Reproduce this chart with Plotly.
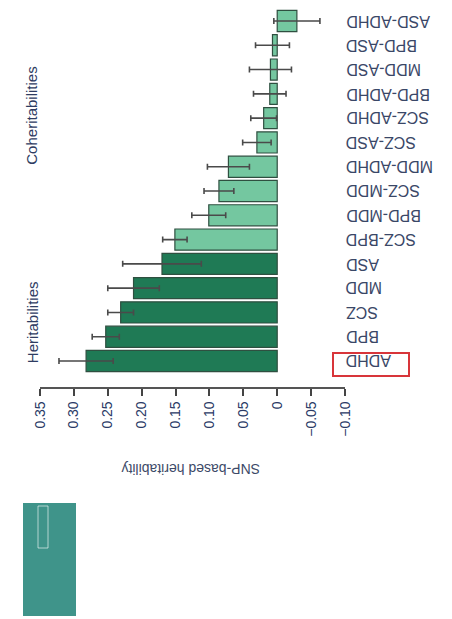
import plotly.graph_objects as go

categories = ["ADHD", "BPD", "SCZ", "MDD", "ASD",
              "SCZ-BPD", "BPD-MDD", "SCZ-MDD", "MDD-ADHD", "SCZ-ASD",
              "SCZ-ADHD", "BPD-ADHD", "MDD-ASD", "BPD-ASD", "ASD-ADHD"]
values = [0.282, 0.253, 0.231, 0.212, 0.170,
          0.151, 0.101, 0.086, 0.072, 0.030,
          0.020, 0.011, 0.010, 0.007, -0.029]
errors = [0.040, 0.020, 0.019, 0.038, 0.058,
          0.018, 0.025, 0.022, 0.031, 0.021,
          0.019, 0.024, 0.031, 0.025, 0.034]
kinds = ["h"] * 5 + ["c"] * 10
tick_vals = [0.35, 0.30, 0.25, 0.20, 0.15, 0.10, 0.05, 0, -0.05, -0.10]
tick_text = ["0.35", "0.30", "0.25", "0.20", "0.15", "0.10", "0.05", "0", "\u22120.05", "\u22120.10"]
axis_title = "SNP-based heritability"
group_labels = ["Heritabilities", "Coheritabilities"]
group_centers = [1.6, 10.1]

W, H = 452, 619
L, R = 32, 337      # plot px left/right
T, B = 0, 379       # plot px top/bottom
pw, ph = R - L, B - T

def px(xp):
    return (xp - L) / pw

def py(yp):
    return (B - yp) / ph

FONT = "Liberation Sans, Arial, sans-serif"
dark = "#1f7a55"
light = "#74c7a0"
colors = [dark if k == "h" else light for k in kinds]

fig = go.Figure()
fig.add_trace(go.Bar(
    y=list(range(len(categories))),
    x=values,
    orientation="h",
    width=0.87,
    marker=dict(color=colors, line=dict(color="#2f4f40", width=1.2)),
    error_x=dict(type="data", array=errors, visible=True,
                 color="#4a4a4a", thickness=1.6, width=3),
    showlegend=False,
    hoverinfo="skip",
))

annotations = []
for i, c in enumerate(categories):
    annotations.append(dict(
        x=px(336), xref="paper", y=i, yref="y",
        text=c, showarrow=False, textangle=180,
        xanchor="left", yanchor="middle",
        font=dict(family=FONT, size=16, color="#3a4767"),
    ))
for lab, cy in zip(group_labels, group_centers):
    annotations.append(dict(
        x=px(24), xref="paper", y=cy, yref="y",
        text=lab, showarrow=False, textangle=-90,
        xanchor="center", yanchor="middle",
        font=dict(family=FONT, size=15, color="#2e3c62"),
    ))
annotations.append(dict(
    x=px(183), xref="paper", y=py(461), yref="paper",
    text=axis_title, showarrow=False, textangle=180,
    xanchor="center", yanchor="middle",
    font=dict(family=FONT, size=14, color="#3d4a68"),
))

shapes = [
    dict(type="rect", xref="paper", yref="paper",
         x0=px(325), x1=px(401), y0=py(368), y1=py(345),
         line=dict(color="#d8353a", width=2), fillcolor="rgba(0,0,0,0)"),
    dict(type="rect", xref="paper", yref="paper",
         x0=px(15), x1=px(68), y0=py(608), y1=py(495),
         line=dict(width=0), fillcolor="#3f948a"),
    dict(type="rect", xref="paper", yref="paper",
         x0=px(30), x1=px(40), y0=py(540), y1=py(498),
         line=dict(color="rgba(255,255,255,0.6)", width=1), fillcolor="rgba(0,0,0,0)"),
]

fig.update_layout(
    width=W, height=H,
    margin=dict(l=L, r=W - R, t=T, b=H - B, pad=0),
    paper_bgcolor="white", plot_bgcolor="white",
    bargap=0.13,
    annotations=annotations,
    shapes=shapes,
    xaxis=dict(
        range=[0.35, -0.10], autorange=False,
        tickvals=tick_vals, ticktext=tick_text,
        tickangle=-90, ticks="outside", ticklen=7, tickwidth=1.5,
        tickcolor="#444", showline=True, linecolor="#555", linewidth=1.5,
        showgrid=False, zeroline=False,
        tickfont=dict(family=FONT, size=14, color="#2a3a66"),
    ),
    yaxis=dict(
        range=[-1.07, 14.535], autorange=False,
        showticklabels=False, showgrid=False, zeroline=False,
        showline=False, ticks="",
    ),
)

fig.write_html("out.html")
